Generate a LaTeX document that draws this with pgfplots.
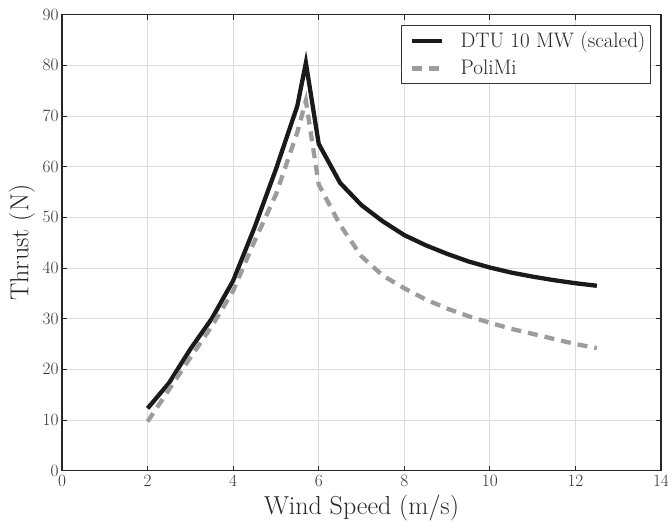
\documentclass[border=0pt]{standalone}
\usepackage{pgfplots}
\pgfplotsset{compat=1.18}
\definecolor{curveblack}{HTML}{1A1A1A}
\definecolor{curvegrey}{HTML}{9C9C9C}
\definecolor{gridgrey}{HTML}{DCDCDC}
\begin{document}
\begin{tikzpicture}
\begin{axis}[
  name=ax,
  scale only axis,
  width=599pt, height=456pt,
  xmin=0, xmax=14, ymin=0, ymax=90,
  xtick={0,2,...,14}, ytick={0,10,...,90},
  grid=major,
  major grid style={color=gridgrey, line width=0.8pt},
  axis line style={line width=1.6pt, color=black!85},
  tick style={line width=0.8pt, color=black!85},
  major tick length=5pt,
  tick align=inside,
  ticklabel style={font=\fontsize{17}{17}\selectfont, color=black!80},
  xticklabel style={yshift=-1pt},
  xlabel={Wind Speed (m/s)},
  ylabel={Thrust (N)},
  label style={font=\fontsize{26}{26}\selectfont, color=black!85},
  xlabel style={at={(axis description cs:0.5,-0.0965)}, anchor=base},
  ylabel style={at={(axis description cs:-0.0668,0.5)}, anchor=center},
  legend style={at={(0.983,0.978)}, anchor=north east, draw=black!80, line width=0.8pt,
    font=\fontsize{21}{21}\selectfont, text=black!85, inner xsep=3pt, inner ysep=5pt,
    row sep=7pt},
  legend cell align=left,
  legend image code/.code={\path (-5pt,0pt); \draw[#1] (0pt,0pt) -- (30pt,0pt); \path (45pt,0pt);},
]
\addplot[color=curveblack, line width=4.3pt, line join=miter] coordinates {
(2,12.3) (2.5,17.3) (3,24) (3.5,30) (4,37.5) (4.5,48) (5,59.5) (5.5,72) (5.7,80.5)
(6,64.5) (6.5,56.8) (7,52.4) (7.5,49.2) (8,46.5) (8.5,44.5) (9,42.8) (9.5,41.3)
(10,40.1) (10.5,39.1) (11,38.3) (11.5,37.6) (12,37) (12.5,36.5)
};
\addlegendentry{DTU 10 MW (scaled)}
\addplot[color=curvegrey, line width=4.3pt, dash pattern=on 10pt off 7pt] coordinates {
(2,9.7) (2.5,16) (3,22.3) (3.5,28.5) (4,35.5) (4.5,45.3) (5,54.5) (5.5,66.8) (5.7,73)
(6,56.5) (6.5,48.5) (7,42.3) (7.5,38.5) (8,36) (8.5,33.8) (9,32) (9.5,30.5)
(10,29.2) (10.5,28) (11,27) (11.5,26) (12,25) (12.5,24.2)
};
\addlegendentry{PoliMi}
\end{axis}
\pgfresetboundingbox
\path[use as bounding box] ([xshift=-62pt,yshift=-59pt]ax.south west) rectangle ([xshift=7pt,yshift=14.7pt]ax.north east);
\end{tikzpicture}
\end{document}
